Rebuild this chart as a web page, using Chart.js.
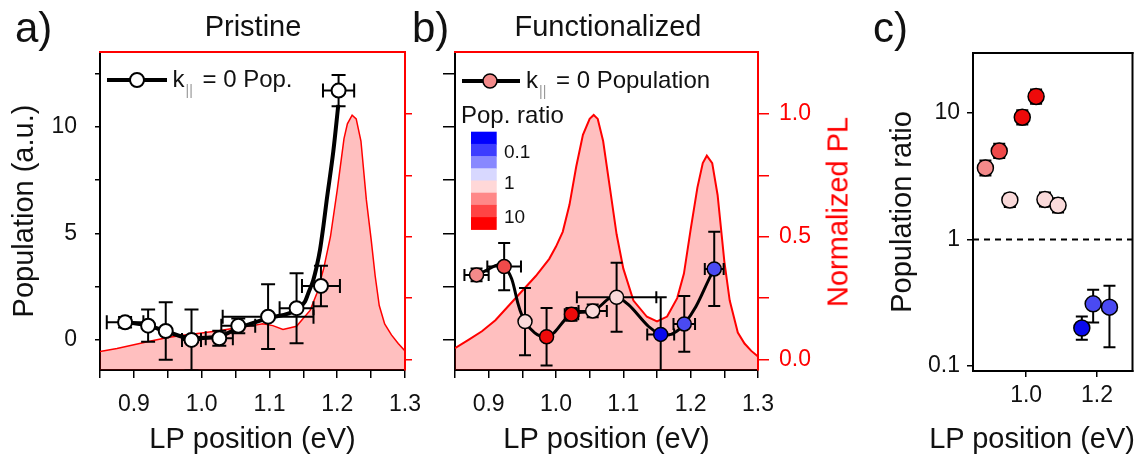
<!DOCTYPE html>
<html><head><meta charset="utf-8">
<script src="https://cdn.jsdelivr.net/npm/chart.js@4.4.1/dist/chart.umd.min.js"></script>
<style>
html,body{margin:0;padding:0;background:#fff;}
#wrap{position:relative;width:1142px;height:459px;overflow:hidden;font-family:'Liberation Sans',Arial,sans-serif;color:#111;}
canvas{position:absolute;top:0;}
.t{position:absolute;line-height:1;white-space:nowrap;}
.sub{font-size:14px;color:#999;position:relative;top:8px;margin-left:1px;margin-right:3px;}
</style></head><body>
<div id="wrap">
<canvas id="ca" width="455" height="459" style="left:0px"></canvas>
<canvas id="cb" width="475" height="459" style="left:405px"></canvas>
<canvas id="cc" width="282" height="459" style="left:860px"></canvas>
<div class="t" style="left:15px;top:6.5px;font-size:42px">a)</div>
<div class="t" style="left:412px;top:6.5px;font-size:42px">b)</div>
<div class="t" style="left:873px;top:6.5px;font-size:42px">c)</div>
<div class="t" style="left:253px;top:11.5px;font-size:29px;transform:translateX(-50%)">Pristine</div>
<div class="t" style="left:608px;top:11.5px;font-size:29px;transform:translateX(-50%)">Functionalized</div>
<div class="t" style="left:172.5px;top:67px;font-size:24px">k<span class="sub">||</span> = 0 Pop.</div>
<div class="t" style="left:526px;top:68px;font-size:24px">k<span class="sub">||</span> = 0 Population</div>
<div class="t" style="left:461px;top:103px;font-size:24px">Pop. ratio</div>
<div class="t" style="left:504px;top:142.2px;font-size:19px">0.1</div>
<div class="t" style="left:504px;top:173.2px;font-size:19px">1</div>
<div class="t" style="left:504px;top:206.6px;font-size:19px">10</div>
<div class="t" style="left:838px;top:212px;font-size:29px;color:#ff0000;transform:translate(-50%,-50%) rotate(-90deg)">Normalized PL</div>
<div class="t" style="right:7px;top:423.5px;font-size:29px">LP position (eV)</div>
</div>
<script>
// ---------- tick values / labels ----------
const xTickValues = [0.85, 0.9, 0.95, 1.0, 1.05, 1.1, 1.15, 1.2, 1.25, 1.3];
const xTickLabels = ['', '0.9', '', '1.0', '', '1.1', '', '1.2', '', '1.3'];
const popTickValues = [0, 2.5, 5, 7.5, 10, 12.5];
const popTickLabels = ['0', '', '5', '', '10', ''];
const plTickValues = [0, 0.25, 0.5, 0.75, 1.0];
const plTickLabels = ['0.0', '', '0.5', '', '1.0'];
const ratioTickValues = [0.1, 1, 10];
const ratioTickLabels = ['0.1', '1', '10'];
const cXTickValues = [1.0, 1.2];
const cXTickLabels = ['1.0', '1.2'];

// ---------- panel a: Pristine ----------
const aPopX = [0.887, 0.921, 0.947, 0.985, 1.026, 1.054, 1.098, 1.140, 1.176, 1.202];
const aPopY = [0.83, 0.67, 0.42, 0.0, 0.08, 0.66, 1.09, 1.49, 2.53, 11.69];
const aPopXErr = [0.027, 0, 0, 0.014, 0.02, 0.025, 0.067, 0.025, 0.028, 0.023];
const aPopYErr = [0.25, 0.76, 1.35, 1.43, 0.35, 0.35, 1.52, 1.64, 0.95, 0.73];
const aFitX = [0.887, 0.921, 0.946, 0.985, 1.0245, 1.054, 1.098, 1.140, 1.1525, 1.1573, 1.1647, 1.1697, 1.1746, 1.1795, 1.1845, 1.1942, 1.2016];
const aFitY = [0.84, 0.67, 0.42, 0.08, 0.16, 0.55, 1.02, 1.41, 1.80, 2.19, 2.81, 3.44, 4.22, 5.31, 6.56, 8.83, 11.02];
const aPLX = [0.85, 0.875, 0.90, 0.925, 0.95, 0.975, 1.0, 1.025, 1.05, 1.075, 1.09, 1.105, 1.12, 1.14, 1.15, 1.16, 1.17, 1.18, 1.19, 1.20, 1.21, 1.215, 1.222, 1.228, 1.235, 1.243, 1.25, 1.256, 1.262, 1.27, 1.28, 1.29, 1.30];
const aPLY = [0.032, 0.045, 0.06, 0.075, 0.09, 0.1, 0.108, 0.117, 0.128, 0.138, 0.146, 0.138, 0.122, 0.135, 0.168, 0.2, 0.27, 0.37, 0.5, 0.69, 0.9, 0.96, 0.995, 0.98, 0.89, 0.65, 0.49, 0.34, 0.22, 0.145, 0.1, 0.065, 0.035];

// ---------- panel b: Functionalized ----------
const bPopX = [0.882, 0.923, 0.954, 0.986, 1.023, 1.0545, 1.090, 1.1555, 1.1905, 1.235];
const bPopY = [3.05, 3.44, 0.86, 0.15, 1.20, 1.36, 2.00, 0.26, 0.75, 3.33];
const bPopXErr = [0.018, 0.025, 0, 0, 0.01, 0.021, 0.059, 0.02, 0.016, 0.014];
const bPopYErr = [0.3, 1.11, 1.58, 1.35, 0.3, 0.3, 1.62, 1.74, 1.31, 1.74];
const bPLX = [0.85, 0.87, 0.89, 0.91, 0.93, 0.95, 0.97, 0.99, 1.0, 1.01, 1.02, 1.03, 1.04, 1.05, 1.056, 1.062, 1.07, 1.08, 1.09, 1.10, 1.115, 1.135, 1.15, 1.165, 1.18, 1.19, 1.20, 1.21, 1.218, 1.224, 1.232, 1.24, 1.25, 1.258, 1.27, 1.28, 1.29, 1.30];
const bPLY = [0.046, 0.08, 0.115, 0.16, 0.22, 0.28, 0.34, 0.41, 0.46, 0.52, 0.63, 0.785, 0.915, 0.98, 0.996, 0.98, 0.89, 0.7, 0.51, 0.37, 0.24, 0.174, 0.155, 0.175, 0.25, 0.35, 0.53, 0.7, 0.8, 0.83, 0.8, 0.67, 0.4, 0.24, 0.11, 0.065, 0.035, 0.012];

// ---------- panel c: population ratio ----------
const cRatioX = [0.885, 0.924, 0.954, 0.989, 1.028, 1.053, 1.090, 1.157, 1.189, 1.235];
const cRatio = [3.67, 5.0, 2.05, 9.25, 13.5, 2.07, 1.86, 0.199, 0.309, 0.291];
const cRatioLow = [3.2, 4.4, 1.8, 8.1, 11.8, 1.82, 1.63, 0.161, 0.22, 0.14];
const cRatioHigh = [4.2, 5.7, 2.3, 10.5, 15.3, 2.35, 2.12, 0.245, 0.40, 0.43];
const refLineX = [0.85, 1.3];
const refLineY = [1, 1];

// colour scale
const ratioColors = ['#f38a8a', '#ef4a4a', '#fadada', '#ee0a0a', '#ee0a0a', '#fadada', '#fadada', '#0a0aee', '#4a4af2', '#4a4af2'];
const colorbarColors = ['#0000ff', '#3d3dff', '#8888ff', '#d8d8ff', '#ffd8d8', '#ff8888', '#ff4444', '#ff0000'];

// ---------- helpers ----------
const pts = (xs, ys) => xs.map((x, i) => ({x: x, y: ys[i]}));
const setTicks = vals => scale => { scale.ticks = vals.map(v => ({value: v})); };
const labelsFrom = labs => (v, i) => labs[i];
const symLow = (v, e) => v.map((y, i) => y - e[i]);
const symHigh = (v, e) => v.map((y, i) => y + e[i]);

Chart.defaults.font.family = "'Liberation Sans', Arial, sans-serif";
Chart.defaults.color = '#111';

const errorBarPlugin = {
  id: 'errorBars',
  beforeDatasetDraw(chart, args) {
    const ds = chart.data.datasets[args.index];
    const eb = ds.errorBars;
    if (!eb) return;
    const {ctx, chartArea: a} = chart;
    const xs = chart.scales[ds.xAxisID || 'x'];
    const ys = chart.scales[ds.yAxisID || 'y'];
    ctx.save();
    ctx.beginPath();
    ctx.rect(a.left, a.top, a.right - a.left, a.bottom - a.top + 1);
    ctx.clip();
    ctx.strokeStyle = '#000';
    ctx.lineWidth = eb.width;
    ds.data.forEach((p, i) => {
      const px = xs.getPixelForValue(p.x), py = ys.getPixelForValue(p.y);
      const c = eb.cap;
      ctx.beginPath();
      if (eb.yLow && eb.yHigh[i] !== eb.yLow[i]) {
        const y1 = ys.getPixelForValue(eb.yLow[i]), y2 = ys.getPixelForValue(eb.yHigh[i]);
        ctx.moveTo(px, y1); ctx.lineTo(px, y2);
        ctx.moveTo(px - c, y1); ctx.lineTo(px + c, y1);
        ctx.moveTo(px - c, y2); ctx.lineTo(px + c, y2);
      }
      if (eb.xLow && eb.xHigh[i] !== eb.xLow[i]) {
        const x1 = xs.getPixelForValue(eb.xLow[i]), x2 = xs.getPixelForValue(eb.xHigh[i]);
        ctx.moveTo(x1, py); ctx.lineTo(x2, py);
        ctx.moveTo(x1, py - c); ctx.lineTo(x1, py + c);
        ctx.moveTo(x2, py - c); ctx.lineTo(x2, py + c);
      }
      ctx.stroke();
    });
    ctx.restore();
  }
};

const framePlugin = {
  id: 'frame',
  afterDraw(chart, args, o) {
    const {ctx, chartArea: a} = chart;
    ctx.save();
    ctx.lineWidth = 2;
    if (o.top) { ctx.strokeStyle = o.top; ctx.beginPath(); ctx.moveTo(a.left - 1, a.top); ctx.lineTo(a.right + 1, a.top); ctx.stroke(); }
    if (o.right) { ctx.strokeStyle = o.right; ctx.beginPath(); ctx.moveTo(a.right, a.top - 1); ctx.lineTo(a.right, a.bottom + 1); ctx.stroke(); }
    ctx.restore();
  }
};

const keyPlugin = {
  id: 'key',
  afterDatasetsDraw(chart, args, o) {
    const ctx = chart.ctx;
    ctx.save();
    if (o.line) {
      const L = o.line;
      ctx.strokeStyle = '#000'; ctx.lineWidth = L.width;
      ctx.beginPath(); ctx.moveTo(L.x1, L.y); ctx.lineTo(L.x2, L.y); ctx.stroke();
      ctx.beginPath(); ctx.arc(L.mx, L.y, L.r, 0, Math.PI * 2);
      ctx.fillStyle = L.fill; ctx.fill();
      ctx.lineWidth = L.bw; ctx.stroke();
    }
    if (o.bar) {
      const B = o.bar;
      const h = (B.y2 - B.y1) / colorbarColors.length;
      colorbarColors.forEach((c, i) => {
        ctx.fillStyle = c;
        ctx.fillRect(B.x1, B.y1 + i * h, B.x2 - B.x1, h + 0.6);
      });
    }
    ctx.restore();
  }
};

Chart.register(errorBarPlugin, framePlugin, keyPlugin);

const TXT = '#111';
function xAxis(opts) {
  return Object.assign({
    type: 'linear', position: 'bottom', min: 0.85, max: 1.3, bounds: 'data',
    afterBuildTicks: setTicks(xTickValues),
    ticks: {callback: labelsFrom(xTickLabels), font: {size: 23}, color: TXT, padding: 13, maxRotation: 0, autoSkip: false},
    grid: {drawOnChartArea: false, drawTicks: true, tickLength: 8, color: '#000', lineWidth: 1.5},
    border: {color: '#000', width: 2},
    title: {display: true, text: 'LP position (eV)', font: {size: 29}, color: TXT, padding: {top: 0, bottom: 1.6}},
    afterFit: s => { s.height = 89; }
  }, opts || {});
}

function baseOptions(extra) {
  return Object.assign({
    responsive: false, animation: false, devicePixelRatio: 1,
    events: [],
    plugins: {legend: {display: false}, tooltip: {enabled: false}}
  }, extra);
}

// ---------- chart a ----------
new Chart(document.getElementById('ca'), {
  type: 'line',
  data: {
    datasets: [
      {data: pts(aPLX, aPLY), yAxisID: 'y2', borderColor: '#ff0000', borderWidth: 1.5, backgroundColor: 'rgba(255,0,0,0.25)', fill: 'start', pointRadius: 0, tension: 0, order: 3},
      {data: pts(aFitX, aFitY), yAxisID: 'y', borderColor: '#000', borderWidth: 4, pointRadius: 0, cubicInterpolationMode: 'monotone', fill: false, order: 2},
      {data: pts(aPopX, aPopY), yAxisID: 'y', showLine: false, pointRadius: 7, pointBackgroundColor: '#fff', pointBorderColor: '#000', pointBorderWidth: 2, order: 1,
       errorBars: {width: 2, cap: 7, xLow: symLow(aPopX, aPopXErr), xHigh: symHigh(aPopX, aPopXErr), yLow: symLow(aPopY, aPopYErr), yHigh: symHigh(aPopY, aPopYErr)}}
    ]
  },
  options: baseOptions({
    layout: {padding: {top: 52, left: 0, right: 0, bottom: 0}},
    scales: {
      x: xAxis(),
      y: {
        type: 'linear', position: 'left', min: -1.41, max: 13.5, bounds: 'data',
        afterBuildTicks: setTicks(popTickValues),
        ticks: {callback: labelsFrom(popTickLabels), font: {size: 23}, color: TXT, padding: 18, autoSkip: false},
        grid: {drawOnChartArea: false, drawTicks: true, tickLength: 5, color: '#000', lineWidth: 1.5},
        border: {color: '#000', width: 2},
        title: {display: true, text: 'Population (a.u.)', font: {size: 29}, color: TXT, padding: {top: 7.5, bottom: 0}},
        afterFit: s => { s.width = 100; }
      },
      y2: {
        type: 'linear', position: 'right', min: -0.0428, max: 1.2525, bounds: 'data',
        afterBuildTicks: setTicks(plTickValues),
        ticks: {display: false},
        grid: {drawOnChartArea: false, drawTicks: true, tickLength: 7, color: '#ff0000', lineWidth: 1.5},
        border: {color: '#ff0000', width: 2},
        afterFit: s => { s.width = 50; }
      }
    },
    plugins: {
      legend: {display: false}, tooltip: {enabled: false},
      frame: {top: '#ff0000'},
      key: {line: {x1: 107, x2: 167, y: 80, width: 4, mx: 137, r: 7, fill: '#fff', bw: 2}}
    }
  })
});

// ---------- chart b ----------
new Chart(document.getElementById('cb'), {
  type: 'line',
  data: {
    datasets: [
      {data: pts(bPLX, bPLY), yAxisID: 'y2', borderColor: '#ff0000', borderWidth: 2, backgroundColor: 'rgba(255,0,0,0.25)', fill: 'start', pointRadius: 0, tension: 0, order: 3},
      {data: pts(bPopX, bPopY), yAxisID: 'y', borderColor: '#000', borderWidth: 3, pointRadius: 0, tension: 0.4, fill: false, order: 2},
      {data: pts(bPopX, bPopY), yAxisID: 'y', showLine: false, pointRadius: 7, pointBackgroundColor: ratioColors, pointBorderColor: '#000', pointBorderWidth: 1.5, order: 1,
       errorBars: {width: 2, cap: 6, xLow: symLow(bPopX, bPopXErr), xHigh: symHigh(bPopX, bPopXErr), yLow: symLow(bPopY, bPopYErr), yHigh: symHigh(bPopY, bPopYErr)}}
    ]
  },
  options: baseOptions({
    layout: {padding: {top: 52, left: 0, right: 0, bottom: 0}},
    scales: {
      x: xAxis(),
      y: {
        type: 'linear', position: 'left', min: -1.41, max: 13.5, bounds: 'data',
        afterBuildTicks: setTicks(popTickValues),
        ticks: {display: false},
        grid: {drawOnChartArea: false, drawTicks: true, tickLength: 12, color: '#000', lineWidth: 1.5},
        border: {color: '#000', width: 2},
        afterFit: s => { s.width = 50; }
      },
      y2: {
        type: 'linear', position: 'right', min: -0.0428, max: 1.2525, bounds: 'data',
        afterBuildTicks: setTicks(plTickValues),
        ticks: {callback: labelsFrom(plTickLabels), font: {size: 23}, color: '#ff0000', padding: 10, autoSkip: false},
        grid: {drawOnChartArea: false, drawTicks: true, tickLength: 11, color: '#ff0000', lineWidth: 1.5},
        border: {color: '#ff0000', width: 2},
        afterFit: s => { s.width = 122; }
      }
    },
    plugins: {
      legend: {display: false}, tooltip: {enabled: false},
      frame: {top: '#ff0000'},
      key: {
        line: {x1: 57, x2: 115, y: 81, width: 4, mx: 85, r: 7, fill: '#f38a8a', bw: 1.5},
        bar: {x1: 66, x2: 91.7, y1: 131.7, y2: 229.3}
      }
    }
  })
});

// ---------- chart c ----------
new Chart(document.getElementById('cc'), {
  type: 'line',
  data: {
    datasets: [
      {data: pts(refLineX, refLineY), borderColor: '#000', borderWidth: 2, borderDash: [6, 5], pointRadius: 0, fill: false, order: 2},
      {data: pts(cRatioX, cRatio), showLine: false, pointRadius: 8, pointBackgroundColor: ratioColors, pointBorderColor: '#000', pointBorderWidth: 1.5, order: 1,
       errorBars: {width: 2, cap: 6, yLow: cRatioLow, yHigh: cRatioHigh}}
    ]
  },
  options: baseOptions({
    layout: {padding: {top: 53, left: 0, right: 7, bottom: 0}},
    scales: {
      x: xAxis({
        afterBuildTicks: setTicks(cXTickValues),
        ticks: {callback: labelsFrom(cXTickLabels), font: {size: 23}, color: TXT, padding: 5, maxRotation: 0, autoSkip: false},
        grid: {drawOnChartArea: false, drawTicks: true, tickLength: 6, color: '#000', lineWidth: 1.5},
        title: {display: false},
        afterFit: s => { s.height = 88; }
      }),
      y: {
        type: 'logarithmic', position: 'left', min: 0.091, max: 29.8, bounds: 'data',
        afterBuildTicks: setTicks(ratioTickValues),
        ticks: {callback: labelsFrom(ratioTickLabels), font: {size: 23}, color: TXT, padding: 7, autoSkip: false},
        grid: {drawOnChartArea: false, drawTicks: true, tickLength: 6, color: '#000', lineWidth: 1.5},
        border: {color: '#000', width: 2},
        title: {display: true, text: 'Population ratio', font: {size: 29}, color: TXT, padding: {top: 25.9, bottom: 0}},
        afterFit: s => { s.width = 113; }
      }
    },
    plugins: {
      legend: {display: false}, tooltip: {enabled: false},
      frame: {top: '#000', right: '#000'}
    }
  })
});
</script>
</body></html>
